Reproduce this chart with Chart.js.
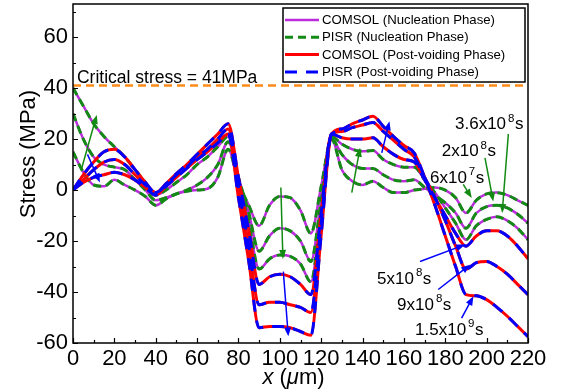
<!DOCTYPE html>
<html>
<head>
<meta charset="utf-8">
<script src="https://cdn.jsdelivr.net/npm/chart.js@4.4.1/dist/chart.umd.min.js"></script>
<style>
  html, body { margin: 0; padding: 0; background: #fff; }
  #wrap { width: 562px; height: 392px; }
</style>
</head>
<body>
<div id="wrap"><canvas id="stressChart"></canvas></div>
<script>
// position along the line (um)
const xPos = [0, 5, 10, 15, 20, 25, 30, 35, 40, 45, 50, 55, 60, 65, 70, 75, 80, 85, 90, 95, 100, 105, 110, 115,
  120, 125, 130, 135, 140, 145, 150, 155, 160, 165, 170, 175, 180, 185, 190, 195, 200, 205, 210, 215, 220];

// nucleation phase (MPa)
const nuc6e7 = [15, 7, 2, 1.5, 4, 2, 0, -2.5, -6, -3.5, -1.5, -0.5, 0, 0.5, 5, 16, 3, -6, -14, -6, -2.5, -3, -8, -17,
  1.5, 20, 8, 3.5, 2, 3.5, 1, -1, -1, 0, 0.5, 1, 0, -3, -9, -4, -1.5, -1, -2, -4, -6];
const nuc2e8 = [30, 20, 13, 10, 9, 8, 4, 0, -4, -3, -1.5, 0, 2, 5, 10, 19, 5, -9, -24, -18, -15, -16, -20, -28,
  -4, 20, 14, 10, 8.5, 8.5, 6, 4, 3.5, 4, 1, -2, -5, -9, -15, -9, -6.5, -6, -7, -9.5, -13];
const nuc36e8 = [40, 33, 26, 21, 17, 13, 8, 3, -2, 0, 3, 6, 10, 13, 17, 21, 4, -13, -31, -27, -25.5, -26, -29, -36,
  -7.5, 21, 18, 16, 15.2, 15.5, 12, 10, 9, 9, 4, -1, -7, -13, -19.5, -14, -11.5, -10.5, -12, -15, -19.5];

// post-voiding phase (MPa)
const post5e8 = [0, 6, 11, 15, 16, 13, 8, 3, -1, 2.5, 6.5, 10, 14, 18, 22, 26, 5, -16, -37, -34, -33, -34, -37, -41,
  -9, 22, 20.5, 20, 20, 20.5, 17, 14, 12, 11, 4, -3, -10, -17, -22, -18, -16, -16, -18, -22, -27];
const post9e8 = [0, 4, 8, 11, 12, 10, 6, 2, -1, 2, 6, 9, 13, 16, 20, 24, 1, -22, -45, -44, -44, -45, -46, -48,
  -13, 22, 23, 24.5, 25.5, 26.5, 23, 19.5, 16, 13, 5, -3, -12, -22, -31, -28.5, -28, -30, -33, -37, -41];
const post15e9 = [0, 3, 5, 6, 7, 6, 4, 1, -2, 1.5, 5, 8.5, 12, 15, 18.5, 22, -3, -28, -54, -53.5, -53.5, -54, -55.5, -57,
  -17.5, 22, 24, 26, 27.5, 29, 25, 21, 17.5, 14.5, 5, -6, -18, -30, -41, -41.5, -43, -46, -49.5, -53.5, -57.5];

const criticalStress = 41;
const xTicks = [0, 20, 40, 60, 80, 100, 120, 140, 160, 180, 200, 220];
const yTicks = [-60, -40, -20, 0, 20, 40, 60];

const FONT = 'Arial, "Liberation Sans", sans-serif';
const PURPLE = '#bb2ddc';
const GREEN = '#138a13';
const RED = '#ff0000';
const BLUE = '#0000ff';
const ORANGE = '#ff8c1a';

// text labels and arrows, placed in data units
const timeLabels = [
  { parts: ['3.6x10', '8', 's'], x: 184.7, y: 23.8 },
  { parts: ['2x10', '8', 's'], x: 178.3, y: 13.3 },
  { parts: ['6x10', '7', 's'], x: 172.6, y: 2.8 },
  { parts: ['5x10', '8', 's'], x: 147, y: -36.7 },
  { parts: ['9x10', '8', 's'], x: 156.7, y: -46.9 },
  { parts: ['1.5x10', '9', 's'], x: 165.4, y: -56.7 }
];
const arrows = [
  { from: [4, 8], to: [11.5, 29.5], color: GREEN },
  { from: [100.5, 1], to: [101.5, -27], color: GREEN },
  { from: [134.8, -1], to: [138.8, 16.6], color: GREEN },
  { from: [188.7, 2.2], to: [192.8, -3.1], color: GREEN },
  { from: [199.2, 12.6], to: [203.2, -4.5], color: GREEN },
  { from: [210.5, 22], to: [207.5, -9], color: GREEN },
  { from: [7, 14], to: [13, 3], color: BLUE },
  { from: [101.7, -32], to: [104.1, -57.4], color: BLUE },
  { from: [149.3, 14.6], to: [153, 27], color: BLUE },
  { from: [167.8, -28], to: [189.6, -21.4], color: BLUE },
  { from: [176.6, -39], to: [192, -29.3], color: BLUE },
  { from: [187.9, -50.2], to: [193.6, -41.7], color: BLUE }
];

const legendItems = [
  { label: 'COMSOL (Nucleation Phase)', color: PURPLE, dash: [], width: 2.5 },
  { label: 'PISR (Nucleation Phase)', color: GREEN, dash: [8, 5], width: 3 },
  { label: 'COMSOL (Post-voiding Phase)', color: RED, dash: [], width: 3 },
  { label: 'PISR (Post-voiding Phase)', color: BLUE, dash: [12, 9], width: 3 }
];

function pts(values) {
  return values.map((v, i) => ({ x: xPos[i], y: v }));
}

function curve(values, color, width, dash) {
  return {
    data: pts(values),
    borderColor: color,
    borderWidth: width,
    borderDash: dash,
    pointRadius: 0,
    fill: false,
    cubicInterpolationMode: 'monotone'
  };
}

const nucSeries = [nuc6e7, nuc2e8, nuc36e8];
const postSeries = [post5e8, post9e8, post15e9];

// first dataset is drawn on top
const datasets = [
  ...postSeries.map(s => curve(s, BLUE, 3, [12, 9])),
  ...postSeries.map(s => curve(s, RED, 3, [])),
  ...nucSeries.map(s => curve(s, GREEN, 3, [8, 5])),
  ...nucSeries.map(s => curve(s, PURPLE, 2.5, [])),
  {
    data: [{ x: 0, y: criticalStress }, { x: 220, y: criticalStress }],
    borderColor: ORANGE, borderWidth: 2.5, borderDash: [8, 5], pointRadius: 0, fill: false
  }
];

function drawArrow(ctx, x1, y1, x2, y2, color) {
  const ang = Math.atan2(y2 - y1, x2 - x1);
  const len = 9, half = 3.5;
  ctx.strokeStyle = color;
  ctx.fillStyle = color;
  ctx.lineWidth = 1.5;
  ctx.setLineDash([]);
  ctx.beginPath();
  ctx.moveTo(x1, y1);
  ctx.lineTo(x2 - Math.cos(ang) * len * 0.8, y2 - Math.sin(ang) * len * 0.8);
  ctx.stroke();
  ctx.beginPath();
  ctx.moveTo(x2, y2);
  ctx.lineTo(x2 - Math.cos(ang) * len + Math.sin(ang) * half, y2 - Math.sin(ang) * len - Math.cos(ang) * half);
  ctx.lineTo(x2 - Math.cos(ang) * len - Math.sin(ang) * half, y2 - Math.sin(ang) * len + Math.cos(ang) * half);
  ctx.closePath();
  ctx.fill();
}

const decorPlugin = {
  id: 'decor',
  afterDraw(chart) {
    const { ctx, chartArea: a } = chart;
    const xs = chart.scales.x, ys = chart.scales.y;
    ctx.save();

    // inward tick marks
    ctx.strokeStyle = '#000';
    ctx.lineWidth = 1.2;
    ctx.beginPath();
    for (let v = xs.min; v <= xs.max; v += 10) {
      const px = Math.round(xs.getPixelForValue(v)) + 0.5;
      const l = v % 20 === 0 ? 5 : 3;
      ctx.moveTo(px, a.bottom);
      ctx.lineTo(px, a.bottom - l);
    }
    for (let v = -60; v <= ys.max; v += 10) {
      const py = Math.round(ys.getPixelForValue(v)) + 0.5;
      const l = v % 20 === 0 ? 5 : 3;
      ctx.moveTo(a.left, py);
      ctx.lineTo(a.left + l, py);
    }
    ctx.stroke();

    // frame
    ctx.lineWidth = 1.5;
    ctx.strokeRect(a.left, a.top, a.right - a.left, a.bottom - a.top);

    // critical stress text
    ctx.fillStyle = '#000';
    ctx.font = '17.5px ' + FONT;
    ctx.textAlign = 'left';
    ctx.textBaseline = 'alphabetic';
    ctx.fillText('Critical stress = 41MPa', xs.getPixelForValue(1.9), ys.getPixelForValue(42));

    // arrows
    arrows.forEach(ar => {
      drawArrow(ctx, xs.getPixelForValue(ar.from[0]), ys.getPixelForValue(ar.from[1]),
        xs.getPixelForValue(ar.to[0]), ys.getPixelForValue(ar.to[1]), ar.color);
    });

    // time labels with superscripts
    ctx.fillStyle = '#000';
    timeLabels.forEach(t => {
      let px = xs.getPixelForValue(t.x);
      const py = ys.getPixelForValue(t.y);
      ctx.font = '17px ' + FONT;
      ctx.fillText(t.parts[0], px, py);
      px += ctx.measureText(t.parts[0]).width + 2;
      ctx.font = '11.5px ' + FONT;
      ctx.fillText(t.parts[1], px, py - 7.5);
      px += ctx.measureText(t.parts[1]).width + 0.5;
      ctx.font = '17px ' + FONT;
      ctx.fillText(t.parts[2], px, py);
    });

    // legend
    const bx = a.right - 245, by = a.top + 4, bw = 242, bh = 74;
    ctx.fillStyle = '#fff';
    ctx.fillRect(bx, by, bw, bh);
    ctx.strokeStyle = '#000';
    ctx.lineWidth = 1.5;
    ctx.strokeRect(bx, by, bw, bh);
    ctx.font = '13.2px ' + FONT;
    ctx.textBaseline = 'middle';
    legendItems.forEach((it, i) => {
      const ry = by + 12 + i * 17.3;
      ctx.strokeStyle = it.color;
      ctx.lineWidth = it.width;
      ctx.setLineDash(it.dash);
      ctx.beginPath();
      ctx.moveTo(bx + 2, ry);
      ctx.lineTo(bx + 36, ry);
      ctx.stroke();
      ctx.setLineDash([]);
      ctx.fillStyle = '#000';
      ctx.fillText(it.label, bx + 39, ry + 0.5);
    });

    // axis titles
    ctx.fillStyle = '#000';
    ctx.textBaseline = 'alphabetic';
    ctx.font = '22px ' + FONT;
    ctx.save();
    ctx.translate(35, 154);
    ctx.rotate(-Math.PI / 2);
    ctx.textAlign = 'center';
    ctx.fillText('Stress (MPa)', 0, 0);
    ctx.restore();

    const parts = [['x', true], [' (', false], ['\u03bc', true], ['m)', false]];
    let total = 0;
    parts.forEach(p => {
      ctx.font = (p[1] ? 'italic ' : '') + '22px ' + FONT;
      total += ctx.measureText(p[0]).width;
    });
    let tx = 293.5 - total / 2;
    ctx.textAlign = 'left';
    parts.forEach(p => {
      ctx.font = (p[1] ? 'italic ' : '') + '22px ' + FONT;
      ctx.fillText(p[0], tx, 384);
      tx += ctx.measureText(p[0]).width;
    });
    ctx.restore();
  }
};

Chart.defaults.font.family = FONT;
Chart.defaults.color = '#000';

const ctx = document.getElementById('stressChart').getContext('2d');
const stressChart = new Chart(ctx, {
  type: 'line',
  data: { datasets: datasets },
  options: {
    responsive: true,
    maintainAspectRatio: false,
    animation: false,
    layout: { padding: { top: 4, right: 34, left: 0, bottom: 0 } },
    plugins: { legend: { display: false }, tooltip: { enabled: false } },
    scales: {
      x: {
        type: 'linear',
        min: 0,
        max: 220,
        afterBuildTicks: s => { s.ticks = xTicks.map(v => ({ value: v })); },
        afterFit: s => { s.height = 49; s.paddingLeft = 0; s.paddingRight = 0; },
        grid: { display: false, drawTicks: false },
        border: { display: false },
        ticks: { font: { size: 22 }, padding: 3, maxRotation: 0, autoSkip: false }
      },
      y: {
        type: 'linear',
        min: -60,
        max: 73,
        afterBuildTicks: s => { s.ticks = yTicks.map(v => ({ value: v })); },
        afterFit: s => { s.width = 73; s.paddingTop = 0; s.paddingBottom = 0; },
        grid: { display: false, drawTicks: false },
        border: { display: false },
        ticks: { font: { size: 22 }, padding: 5 }
      }
    }
  },
  plugins: [decorPlugin]
});
</script>
</body>
</html>
